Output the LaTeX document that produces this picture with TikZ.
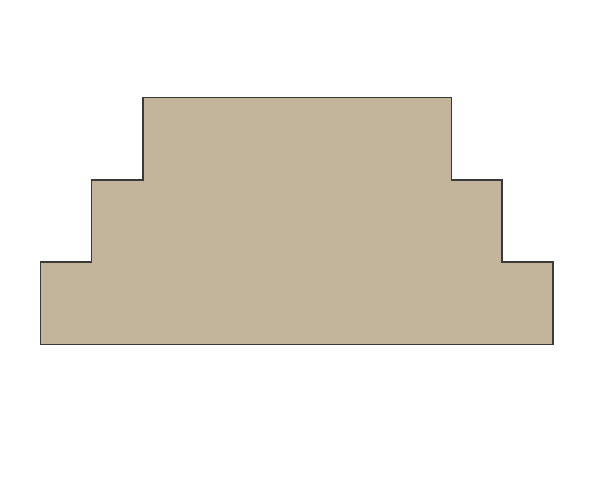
\documentclass[tikz,border=0pt]{standalone}
\definecolor{tan}{HTML}{C3B59B}
\definecolor{edge}{HTML}{3A3A3A}
\begin{document}
\begin{tikzpicture}[x=1pt,y=-1pt,shapefill/.style={fill=tan,draw=edge,line width=1.2pt,line join=miter}]
\useasboundingbox (0,0) rectangle (595,497);
\draw[shapefill] (143,97.5) -- (451.5,97.5) -- (451.5,180) -- (502,180) -- (502,262) -- (553,262) -- (553,344.5) -- (40.5,344.5) -- (40.5,262) -- (91.7,262) -- (91.7,180) -- (143,180) -- cycle;
\end{tikzpicture}
\end{document}
